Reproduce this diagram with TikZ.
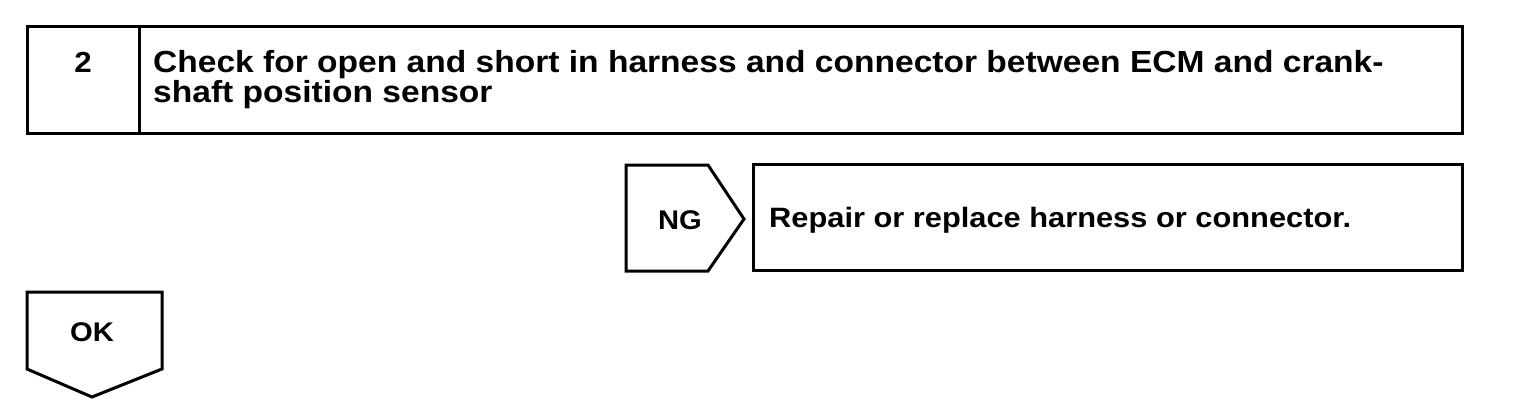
\documentclass[tikz,border=0pt]{standalone}
\usepackage{fontspec}
\setmainfont{Liberation Sans}
\newfontfamily\hfont[FakeStretch=1.1]{Liberation Sans}
\newfontfamily\lfont[FakeStretch=1.08]{Liberation Sans}
\begin{document}
\begin{tikzpicture}[x=1pt,y=-1pt,
  box/.style={draw=black,line width=3pt,line join=miter},
  lbl/.style={font=\lfont\fontsize{27}{27}\selectfont\bfseries,inner sep=0pt},
  ttl/.style={font=\hfont\fontsize{30.5}{30.5}\selectfont\bfseries,inner sep=0pt,anchor=base west},
  txt/.style={font=\hfont\fontsize{28}{28}\selectfont\bfseries,inner sep=0pt,anchor=base west}]
\useasboundingbox[fill=white] (0,0) rectangle (1520,410);
% step header
\draw[box] (27,26) rectangle (1462,133);
\draw[box] (139,26) -- (139,133);
\node[lbl,font=\lfont\fontsize{29}{29}\selectfont\bfseries,anchor=base] (num) at (83,72) {2};
\node[ttl] (title1) at (153,72) {Check for open and short in harness and connector between ECM and crank-};
\node[ttl] (title2) at (153,102) {shaft position sensor};
% NG branch
\draw[box] (626,165) -- (708,165) -- (744,219) -- (708,271) -- (626,271) -- cycle;
\node[lbl,anchor=base] (ng) at (680,229) {NG};
\draw[box] (753,164) rectangle (1462,270);
\node[txt] (repair) at (769,227) {Repair or replace harness or connector.};
% OK branch
\draw[box] (27,292) -- (162,292) -- (162,369) -- (92,397) -- (27,369) -- cycle;
\node[lbl,anchor=base] (ok) at (92,341) {OK};
\end{tikzpicture}
\end{document}
